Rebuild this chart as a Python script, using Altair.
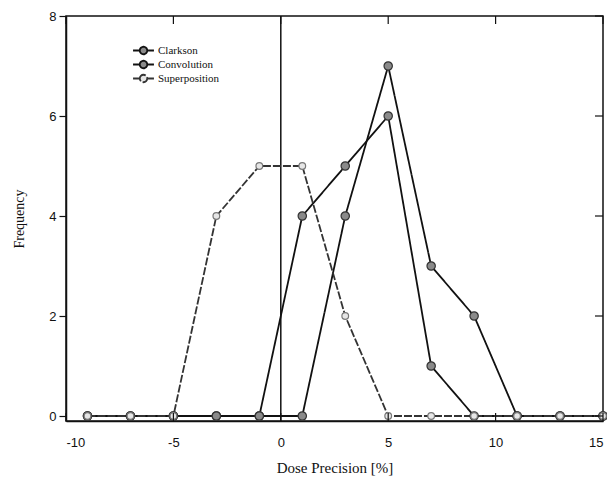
import altair as alt
import pandas as pd

x_vals = [-9, -7, -5, -3, -1, 1, 3, 5, 7, 9, 11, 13, 15]
clarkson = [0, 0, 0, 0, 0, 0, 4, 7, 3, 2, 0, 0, 0]
convolution = [0, 0, 0, 0, 0, 4, 5, 6, 1, 0, 0, 0, 0]
superposition = [0, 0, 0, 4, 5, 5, 2, 0, 0, 0, 0, 0, 0]
series_names = ["Clarkson", "Convolution", "Superposition"]
x_ticks = [-10, -5, 0, 5, 10, 15]
y_ticks = [0, 2, 4, 6, 8]

rows = []
for name, vals in zip(series_names, [clarkson, convolution, superposition]):
    for xv, yv in zip(x_vals, vals):
        rows.append({"x": xv, "y": yv, "series": name})
df = pd.DataFrame(rows)

W, H = 537, 405
xs = alt.Scale(domain=[-10, 15], nice=False, zero=False)
ys = alt.Scale(domain=[-0.1, 8], nice=False, zero=False)
serif = "Liberation Serif"

color_scale = alt.Scale(domain=series_names, range=["#111", "#111", "#333"])
dash_scale = alt.Scale(domain=series_names, range=[[1, 0], [1, 0], [8, 2]])
width_scale = alt.Scale(domain=series_names, range=[1.8, 1.8, 1.0])
fill_scale = alt.Scale(domain=series_names, range=["#8a8a8a", "#8a8a8a", "#e6e6e6"])
stroke_scale = alt.Scale(domain=series_names, range=["#333", "#333", "#777"])

legend_path = ("M-1.9,0L-0.68,0M0.68,0L1.9,0"
               "M-0.68,0A0.68,0.68,0,1,1,0.68,0A0.68,0.68,0,1,1,-0.68,0Z")
leg = dict(title=None, orient="none", legendX=71, legendY=28, symbolType=legend_path,
           symbolSize=121, labelFont=serif, labelFontSize=11, labelColor="#111",
           rowPadding=-1, symbolStrokeWidth=1.3, labelOffset=8, labelLimit=200)

base = alt.Chart(df)

lines = base.mark_line().encode(
    x=alt.X("x:Q", scale=xs, axis=alt.Axis(
        title="Dose Precision [%]", values=x_ticks, tickSize=0, labelPadding=15,
        labelExpr="replace(toString(datum.value), '−', '-')",
        grid=False, labelFont="Liberation Sans", labelFontSize=13, labelColor="#111",
        titleFont=serif, titleFontSize=15, titleFontWeight="normal", titleColor="#111",
        titlePadding=11, domainColor="#111", domainWidth=1.5)),
    y=alt.Y("y:Q", scale=ys, axis=alt.Axis(
        title="Frequency", values=y_ticks, tickSize=7, tickColor="#111", tickWidth=1.2,
        labelPadding=3, grid=False, labelFont="Liberation Sans", labelFontSize=13,
        labelColor="#111", titleFont=serif, titleFontSize=14, titleFontWeight="normal",
        titleColor="#111", titlePadding=22, domainColor="#111", domainWidth=1.5)),
    color=alt.Color("series:N", scale=color_scale, sort=series_names, legend=alt.Legend(**leg)),
    strokeDash=alt.StrokeDash("series:N", scale=dash_scale, sort=series_names, legend=None),
    strokeWidth=alt.StrokeWidth("series:N", scale=width_scale, sort=series_names, legend=None),
    detail="series:N",
)

def point_layer(filter_expr, size):
    return base.transform_filter(filter_expr).mark_point(
        filled=True, strokeWidth=1.2, opacity=1, size=size).encode(
        x=alt.X("x:Q", scale=xs),
        y=alt.Y("y:Q", scale=ys),
        fill=alt.Fill("series:N", scale=fill_scale, sort=series_names, legend=alt.Legend(**leg)),
        stroke=alt.Stroke("series:N", scale=stroke_scale, sort=series_names, legend=None),
    )

points_main = point_layer("datum.series != 'Superposition'", 70)
points_sup = point_layer("datum.series == 'Superposition'", 45)

zero_line = alt.Chart(pd.DataFrame({"x": [0]})).mark_rule(color="#111", strokeWidth=1.5).encode(
    x=alt.X("x:Q", scale=xs))

xt = pd.DataFrame({"x": x_ticks})
bottom_ticks = alt.Chart(xt).mark_rule(color="#111", strokeWidth=1.2).encode(
    x=alt.X("x:Q", scale=xs), y=alt.value(H), y2=alt.value(H - 8))
top_ticks = alt.Chart(xt).mark_rule(color="#111", strokeWidth=1.2).encode(
    x=alt.X("x:Q", scale=xs), y=alt.value(0), y2=alt.value(8))
yt = pd.DataFrame({"y": y_ticks})
right_ticks = alt.Chart(yt).mark_rule(color="#111", strokeWidth=1.2).encode(
    y=alt.Y("y:Q", scale=ys), x=alt.value(W), x2=alt.value(W - 8))

chart = alt.layer(zero_line, lines, points_main, points_sup, bottom_ticks, top_ticks, right_ticks).properties(
    width=W, height=H, padding={"left": 58, "top": 8, "right": 4, "bottom": 56},
    autosize=alt.AutoSizeParams(type="none"),
    background="white",
).configure_view(stroke="#111", strokeWidth=1.5)

chart.save("out.html", embed_options={"renderer": "svg", "actions": False})
